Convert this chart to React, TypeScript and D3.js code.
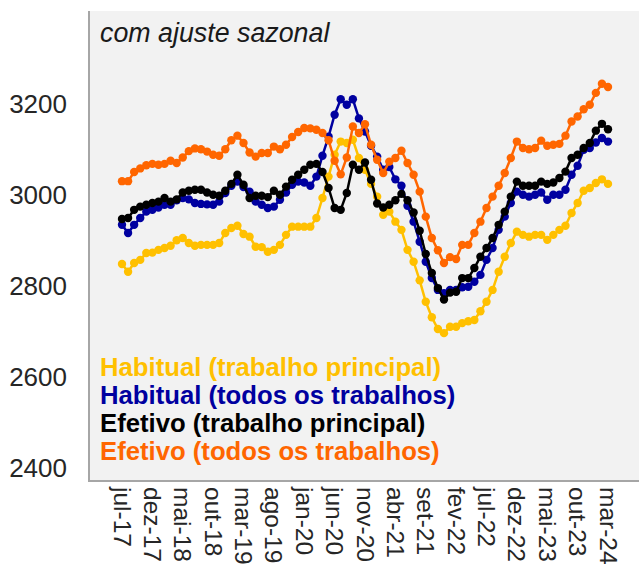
import React, { useEffect, useRef } from "react";
import * as d3 from "d3";

// monthly periods, jul-17 .. mar-24
const monthNames = ["jan", "fev", "mar", "abr", "mai", "jun", "jul", "ago", "set", "out", "nov", "dez"];
const periods: string[] = [];
for (let k = 0; k < 81; k++) {
  const m = (6 + k) % 12;
  const yr = 17 + Math.floor((6 + k) / 12);
  periods.push(monthNames[m] + "-" + yr);
}

const tickLabels = ["jul-17", "dez-17", "mai-18", "out-18", "mar-19", "ago-19", "jan-20", "jun-20", "nov-20",
  "abr-21", "set-21", "fev-22", "jul-22", "dez-22", "mai-23", "out-23", "mar-24"];

const yTicks = [2400, 2600, 2800, 3000, 3200];

const habitualPrincipal = [
  2848, 2831, 2850, 2857, 2872, 2873, 2879, 2883, 2888, 2900,
  2905, 2894, 2888, 2890, 2890, 2890, 2894, 2916, 2927, 2932,
  2914, 2908, 2886, 2885, 2875, 2879, 2890, 2912, 2930, 2930,
  2930, 2930, 2949, 2993, 3040, 3088, 3117, 3114, 3121, 3081,
  3055, 3024, 2996, 2956, 2963, 2941, 2923, 2879, 2853, 2812,
  2765, 2731, 2705, 2696, 2710, 2710, 2718, 2722, 2725, 2744,
  2765, 2791, 2831, 2864, 2894, 2919, 2912, 2908, 2912, 2912,
  2901, 2912, 2923, 2932, 2960, 2982, 3009, 3015, 3026, 3034,
  3024];

const habitualTodos = [
  2934, 2916, 2934, 2949, 2963, 2967, 2972, 2978, 2978, 2988,
  2993, 2990, 2982, 2980, 2979, 2978, 2985, 3004, 3020, 3029,
  3017, 3007, 2985, 2978, 2971, 2974, 2989, 3005, 3022, 3029,
  3027, 3020, 3040, 3086, 3128, 3176, 3210, 3198, 3210, 3168,
  3139, 3108, 3084, 3055, 3061, 3034, 3020, 2976, 2941, 2897,
  2853, 2817, 2791, 2784, 2791, 2791, 2797, 2798, 2809, 2824,
  2857, 2883, 2923, 2952, 2982, 3007, 3000, 2996, 3000, 3005,
  2989, 3000, 3000, 3011, 3044, 3064, 3099, 3103, 3115, 3125,
  3117];

const efetivoPrincipal = [
  2947, 2949, 2967, 2974, 2978, 2982, 2985, 2993, 2985, 2990,
  3005, 3009, 3011, 3011, 3005, 3000, 2998, 3009, 3024, 3044,
  3022, 2993, 2998, 2998, 2995, 3009, 3000, 3018, 3033, 3044,
  3055, 3066, 3068, 3050, 3015, 2971, 2967, 3004, 3066, 3055,
  3071, 3033, 2981, 2972, 2978, 2988, 3002, 2988, 2961, 2921,
  2870, 2828, 2795, 2770, 2785, 2787, 2817, 2817, 2839, 2864,
  2883, 2905, 2934, 2963, 2996, 3029, 3020, 3020, 3020, 3029,
  3024, 3027, 3037, 3051, 3081, 3088, 3103, 3114, 3141, 3156,
  3144];

const efetivoTodos = [
  3030, 3030, 3050, 3058, 3065, 3068, 3066, 3068, 3075, 3070,
  3082, 3096, 3102, 3100, 3095, 3088, 3086, 3100, 3120, 3130,
  3114, 3093, 3084, 3092, 3092, 3106, 3100, 3110, 3127, 3138,
  3147, 3146, 3143, 3136, 3120, 3075, 3045, 3082, 3150, 3136,
  3155, 3110, 3077, 3048, 3073, 3081, 3097, 3070, 3044, 3007,
  2952, 2905, 2878, 2850, 2863, 2859, 2890, 2890, 2916, 2941,
  2971, 2996, 3020, 3048, 3081, 3117, 3103, 3100, 3103, 3119,
  3108, 3110, 3112, 3130, 3161, 3172, 3188, 3198, 3224, 3244,
  3237];

const seriesNames = [
  "Habitual (trabalho principal)",
  "Habitual (todos os trabalhos)",
  "Efetivo (trabalho principal)",
  "Efetivo (todos os trabalhos)",
];
const seriesColors = ["#ffc000", "#0000a0", "#000000", "#ff6600"];

const W = 639, H = 572;

export default function App() {
  const ref = useRef<SVGSVGElement | null>(null);

  useEffect(() => {
    const svg = d3.select(ref.current);
    svg.selectAll("*").remove();

    const plot = { left: 89, right: 645, top: 11, bottom: 481 };
    const font = "'Liberation Sans', Arial, sans-serif";

    const x = d3.scalePoint<string>().domain(periods).range([122, 608]);
    const y = d3.scaleLinear().domain([2371, 3404]).range([plot.bottom, plot.top]);

    svg.append("rect")
      .attr("x", plot.left).attr("y", plot.top)
      .attr("width", plot.right - plot.left).attr("height", plot.bottom - plot.top)
      .attr("fill", "#f2f2f2");

    svg.append("line")
      .attr("x1", plot.left).attr("x2", plot.left)
      .attr("y1", plot.top).attr("y2", plot.bottom + 1)
      .attr("stroke", "#a6a6a6").attr("stroke-width", 2);
    svg.append("line")
      .attr("x1", plot.left - 1).attr("x2", plot.right)
      .attr("y1", plot.bottom).attr("y2", plot.bottom)
      .attr("stroke", "#a6a6a6").attr("stroke-width", 2);

    // y axis labels
    svg.append("g").selectAll("text").data(yTicks).enter().append("text")
      .attr("x", 67).attr("y", d => y(d))
      .attr("text-anchor", "end").attr("dominant-baseline", "central")
      .style("font-family", font).style("font-size", "26px").style("fill", "#262626")
      .text(d => d);

    // x axis labels (rotated)
    svg.append("g").selectAll("text").data(tickLabels).enter().append("text")
      .attr("transform", d => "translate(" + [x(d), 487] + ") rotate(90)")
      .attr("text-anchor", "start").attr("dominant-baseline", "central")
      .style("font-family", font).style("font-size", "24.5px").style("fill", "#262626")
      .text(d => d);

    const allSeries = [habitualPrincipal, habitualTodos, efetivoPrincipal, efetivoTodos];
    const line = d3.line<number>()
      .x((d, i) => x(periods[i]) as number)
      .y(d => y(d));

    allSeries.forEach((vals, s) => {
      const g = svg.append("g");
      g.append("path")
        .attr("d", line(vals))
        .attr("fill", "none")
        .attr("stroke", seriesColors[s])
        .attr("stroke-width", 2.5);
      g.selectAll("circle").data(vals).enter().append("circle")
        .attr("cx", (d, i) => x(periods[i]) as number)
        .attr("cy", d => y(d))
        .attr("r", 4.2)
        .attr("fill", seriesColors[s]);
    });

    svg.append("text")
      .attr("x", 100).attr("y", 42)
      .style("font-family", font).style("font-size", "26.8px").style("font-style", "italic")
      .style("fill", "#1a1a1a")
      .text("com ajuste sazonal");

    // legend
    svg.append("g").selectAll("text").data(seriesNames).enter().append("text")
      .attr("x", 100).attr("y", (d, i) => 376 + i * 28)
      .style("font-family", font).style("font-size", "25.7px").style("font-weight", "bold")
      .style("fill", (d, i) => seriesColors[i])
      .text(d => d);
  }, []);

  return (
    <svg ref={ref} width={W} height={H}
      style={{ position: "absolute", left: 0, top: 0, background: "#fff" }} />
  );
}
